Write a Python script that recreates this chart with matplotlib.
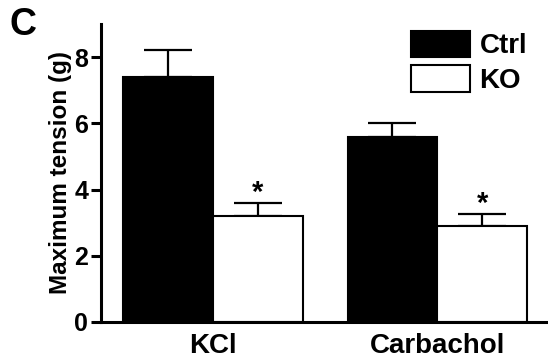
import numpy as np
import matplotlib.pyplot as plt

plt.rcParams['font.family'] = ['Liberation Sans', 'DejaVu Sans']
plt.rcParams['font.weight'] = 'bold'

groups = ['KCl', 'Carbachol']
ctrl_mean = [7.4, 5.6]
ctrl_sem = [0.8, 0.42]
ko_mean = [3.2, 2.9]
ko_sem = [0.38, 0.35]
signif = ['*', '*']

fig = plt.figure(figsize=(5.48, 3.62), dpi=100)
ax = fig.add_axes([0.184, 0.1105, 0.816, 0.8235])

pos = np.array([0.0, 2.5])
w = 1.0
ax.bar(pos, ctrl_mean, w, color='black', edgecolor='black', linewidth=1.5,
       label='Ctrl', zorder=2)
ax.bar(pos + w, ko_mean, w, color='white', edgecolor='black', linewidth=1.5,
       label='KO', zorder=2)
ax.errorbar(pos, ctrl_mean, yerr=[np.zeros(2), ctrl_sem], fmt='none',
            ecolor='black', elinewidth=1.6, capsize=17, capthick=1.6, zorder=1)
ax.errorbar(pos + w, ko_mean, yerr=[np.zeros(2), ko_sem], fmt='none',
            ecolor='black', elinewidth=1.6, capsize=17, capthick=1.6, zorder=1)
for x, m, s, t in zip(pos + w, ko_mean, ko_sem, signif):
    ax.text(x, m + s - 0.1, t, ha='center', va='bottom', fontsize=21,
            fontweight='bold')

ax.set_xlim(-0.744, 4.23)
ax.set_ylim(0, 9.0)
ax.set_yticks([0, 2, 4, 6, 8])
ax.set_xticks(pos + w / 2)
ax.set_xticklabels(groups, fontsize=20, fontweight='bold')
ax.tick_params(axis='x', length=0, pad=8)
ax.tick_params(axis='y', length=7, width=2.2, labelsize=18, pad=2)
for lab in ax.get_yticklabels():
    lab.set_fontweight('bold')
ax.set_ylabel('Maximum tension (g)', fontsize=17.5, fontweight='bold', labelpad=2)

for s in ['top', 'right']:
    ax.spines[s].set_visible(False)
for s in ['left', 'bottom']:
    ax.spines[s].set_linewidth(2.2)

ax.legend(loc='upper left', bbox_to_anchor=(0.668, 1.015), frameon=False,
          prop={'size': 20, 'weight': 'bold'}, handlelength=2.12,
          handleheight=1.1, handletextpad=0.36, labelspacing=0.2,
          borderaxespad=0.0)

fig.text(0.018, 0.98, 'C', fontsize=27, fontweight='bold', va='top', ha='left')

fig.savefig('out.png', dpi=100)
